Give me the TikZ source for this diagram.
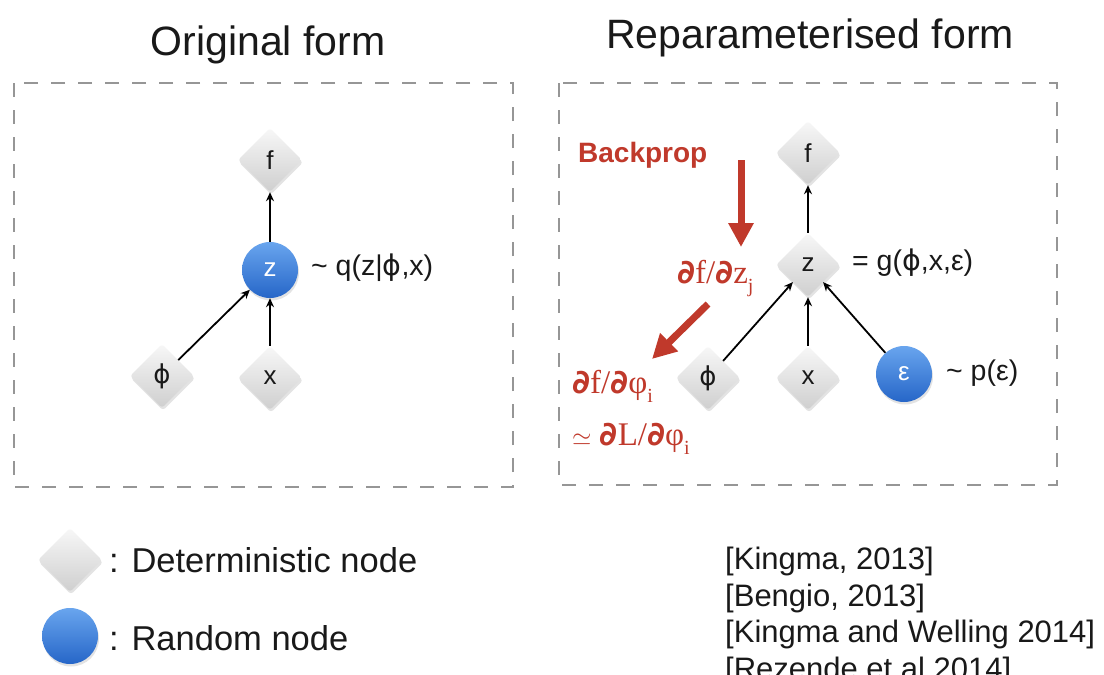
\documentclass[tikz,border=0pt]{standalone}
\usepackage{fontspec}
\setmainfont{Liberation Sans}
\newfontfamily\symfont{DejaVu Sans}
\newfontfamily\serifm{Liberation Serif}
\usetikzlibrary{shapes.geometric,arrows.meta,shadows}
\definecolor{txt}{RGB}{25,25,25}
\definecolor{bpred}{RGB}{192,57,43}
\definecolor{boxgray}{RGB}{150,150,150}
\definecolor{bluetop}{RGB}{105,165,238}
\definecolor{bluebot}{RGB}{38,102,200}
\newcommand{\pd}{{\symfont\bfseries ∂}}
\newcommand{\sbs}[1]{\raisebox{-0.28em}{\fontsize{20}{20}\selectfont #1}}
\tikzset{
  detnode/.style={diamond, aspect=1, minimum size=64pt, inner sep=0pt, rounded corners=3pt,
    top color=gray!6, bottom color=gray!38, draw=none,
    drop shadow={shadow xshift=1pt, shadow yshift=-2.5pt, opacity=0.22},
    font=\fontsize{26}{30}\selectfont, text=txt},
  rndnode/.style={circle, minimum size=56pt, inner sep=0pt,
    top color=bluetop, bottom color=bluebot, draw=none,
    drop shadow={shadow xshift=1pt, shadow yshift=-2.5pt, opacity=0.22},
    font=\fontsize{26}{30}\selectfont, text=white},
  edge/.style={-{Stealth[length=9pt,width=8pt]}, line width=1.8pt, black},
  bparrow/.style={-{Triangle[length=24pt,width=24pt]}, line width=7pt, bpred},
  framebox/.style={draw=boxgray, line width=1.6pt, dash pattern=on 14pt off 13pt},
  lbl/.style={anchor=west, font=\fontsize{28.5}{32}\selectfont, text=txt, inner sep=0pt},
  title/.style={anchor=base, font=\fontsize{41}{48}\selectfont, text=txt, inner sep=0pt},
  legtxt/.style={anchor=base west, font=\fontsize{34.5}{40}\selectfont, text=txt, inner sep=0pt},
  reftxt/.style={anchor=base west, font=\fontsize{31}{36}\selectfont, text=txt, inner sep=0pt},
  redmath/.style={text=bpred, inner sep=0pt, font=\fontsize{33}{38}\selectfont\serifm}
}
\begin{document}
\begin{tikzpicture}[x=1pt,y=-1pt]
\useasboundingbox (0,0) rectangle (1104,675);
\fill[white] (0,0) rectangle (1104,675);

% titles
\node[title] (t1) at (268,55) {Original form};
\node[title] (t2) at (810,48) {Reparameterised form};

% frames
\draw[framebox] (14,83) rectangle (513,487);
\draw[framebox] (559,83) rectangle (1057,485);

% original form
\node[detnode] (f1) at (270,160) {f};
\node[rndnode] (z1) at (270,270) {z};
\node[detnode] (p1) at (162,376) {\symfont ϕ};
\node[detnode] (x1) at (270,378) {x};
\node[lbl] (q1) at (311,268) {\textasciitilde{} q(z|{\symfont ϕ},x)};
\draw[edge] (z1) -- (f1);
\draw[edge] (p1) -- (z1);
\draw[edge] (x1) -- (z1);

% reparameterised form
\node[detnode] (f2) at (808,153) {f};
\node[detnode] (z2) at (808,265) {z};
\node[detnode] (p2) at (708,378) {\symfont ϕ};
\node[detnode] (x2) at (808,378) {x};
\node[rndnode] (e2) at (904,374) {ε};
\node[lbl] (g2) at (852,263) {= g({\symfont ϕ},x,ε)};
\node[lbl] (pe) at (946,373) {\textasciitilde{} p(ε)};
\draw[edge] (z2) -- (f2);
\draw[edge] (p2) -- (z2);
\draw[edge] (x2) -- (z2);
\draw[edge] (e2) -- (z2);

% backprop
\node[anchor=west, inner sep=0pt, text=bpred, font=\fontsize{28}{32}\selectfont\bfseries] (bp) at (578,155) {Backprop};
\coordinate (a1) at (741,160);
\coordinate (a2) at (741,247);
\draw[bparrow] (a1) -- (a2);
\node[redmath, anchor=base west] (dz) at (677,283) {\pd f/\pd z\sbs{j}};
\coordinate (b1) at (708,304);
\coordinate (b2) at (652,359);
\draw[bparrow] (b1) -- (b2);
\node[redmath, anchor=base west] (dp) at (572,393) {\pd f/\pd φ\sbs{i}};
\node[redmath, anchor=base west] (dl) at (572,445) {\fontsize{24}{28}\selectfont$\simeq$\fontsize{33}{38}\selectfont\ \pd L/\pd φ\sbs{i}};

% legend
\node[detnode] (ld) at (70,560) {};
\node[legtxt] (ldt) at (109,572) {: Deterministic node};
\node[rndnode] (lr) at (70,636) {};
\node[legtxt] (lrt) at (109,650) {: Random node};

% references
\node[reftxt] (r1) at (725,569) {[Kingma, 2013]};
\node[reftxt] (r2) at (725,606) {[Bengio, 2013]};
\node[reftxt] (r3) at (725,642) {[Kingma and Welling 2014]};
\node[reftxt] (r4) at (725,679) {[Rezende et al 2014]};
\end{tikzpicture}
\end{document}
